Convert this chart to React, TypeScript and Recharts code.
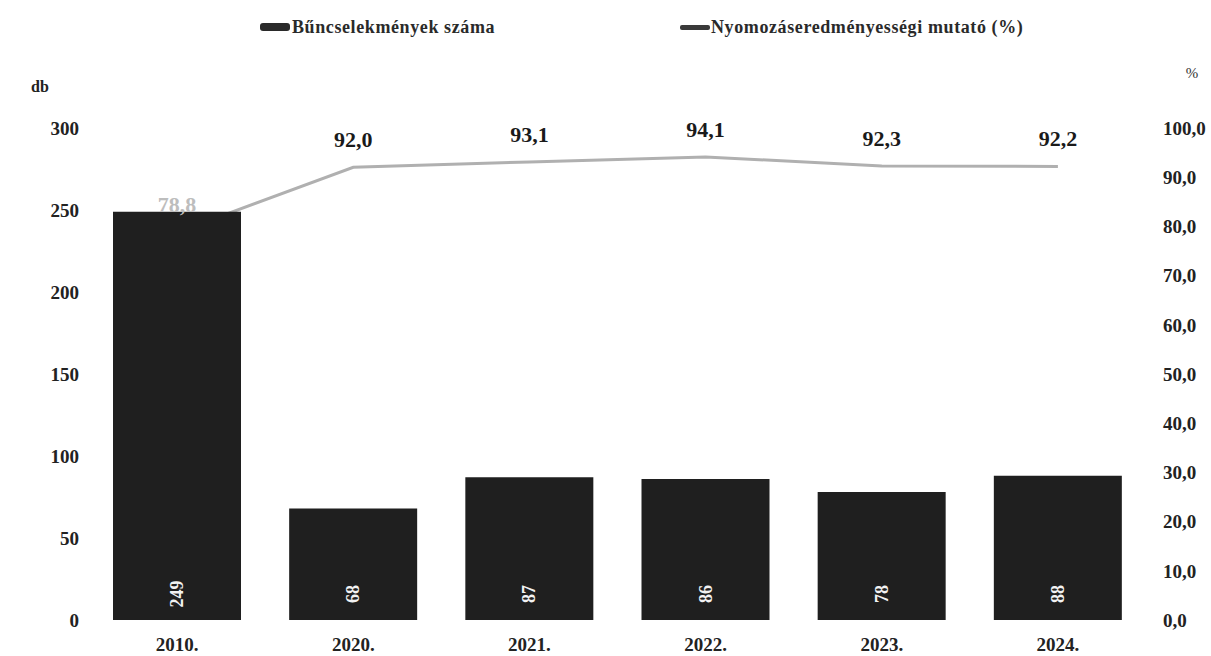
import React from "react";
import {
  ComposedChart,
  Bar,
  Line,
  XAxis,
  YAxis,
  Legend,
  LabelList,
} from "recharts";

const years = ["2010.", "2020.", "2021.", "2022.", "2023.", "2024."];
const crimeCounts = [249, 68, 87, 86, 78, 88];
const clearanceRates = [78.8, 92.0, 93.1, 94.1, 92.3, 92.2];
const countTicks = [0, 50, 100, 150, 200, 250, 300];
const rateTicks = [0, 10, 20, 30, 40, 50, 60, 70, 80, 90, 100];

const data = years.map((year, i) => ({
  year,
  count: crimeCounts[i],
  rate: clearanceRates[i],
}));

const FONT = '"Liberation Serif", "Times New Roman", serif';
const huComma = (v: number) => v.toFixed(1).replace(".", ",");

const tickStyle = { fontSize: 19, fill: "#222", fontWeight: "bold", fontFamily: FONT };

function LegendContent() {
  return (
    <div
      style={{
        display: "flex",
        height: 22,
        paddingLeft: 260,
        fontFamily: FONT,
        fontSize: 18,
        fontWeight: "bold",
        letterSpacing: 0.6,
        color: "#2a2a2a",
        whiteSpace: "nowrap",
      }}
    >
      <div style={{ display: "flex", alignItems: "center", width: 420 }}>
        <span
          style={{
            display: "inline-block",
            width: 30,
            height: 8,
            borderRadius: 3,
            background: "#2a2a2a",
            marginRight: 2,
          }}
        />
        Bűncselekmények száma
      </div>
      <div style={{ display: "flex", alignItems: "center" }}>
        <span
          style={{
            display: "inline-block",
            width: 30,
            height: 5,
            borderRadius: 2,
            background: "#3a3a3a",
            marginRight: 1,
          }}
        />
        Nyomozáseredményességi mutató (%)
      </div>
    </div>
  );
}

const CountLabel = (props: any) => {
  const { x, y, width, height, value } = props;
  const cx = x + width / 2;
  const cy = y + height - 26;
  return (
    <text
      x={cx}
      y={cy}
      transform={`rotate(-90 ${cx} ${cy})`}
      textAnchor="middle"
      dominantBaseline="central"
      fill="#f2f2f2"
      fontSize={18}
      fontWeight="bold"
      fontFamily={FONT}
    >
      {value}
    </text>
  );
};

const RateLabel = (props: any) => {
  const { x, y, value, index } = props;
  return (
    <text
      x={x}
      y={y - 20}
      textAnchor="middle"
      fill={index === 0 ? "#bdbdbd" : "#1a1a1a"}
      fontSize={22}
      fontWeight="bold"
      fontFamily={FONT}
    >
      {huComma(value)}
    </text>
  );
};

export default function App() {
  return (
    <div
      style={{
        position: "absolute",
        left: 0,
        top: 0,
        width: 1211,
        height: 656,
        background: "#fff",
        fontFamily: FONT,
      }}
    >
      <ComposedChart
        width={1211}
        height={656}
        data={data}
        margin={{ top: 106, right: 5, left: 29, bottom: 0 }}
        barSize={128}
      >
        <Legend
          verticalAlign="top"
          align="left"
          content={<LegendContent />}
          wrapperStyle={{ top: 16, left: 0, fontFamily: FONT }}
        />
        <XAxis
          dataKey="year"
          axisLine={false}
          tickLine={false}
          height={36}
          tickMargin={12}
          tick={tickStyle}
        />
        <YAxis
          yAxisId="left"
          domain={[0, 300]}
          ticks={countTicks}
          axisLine={false}
          tickLine={false}
          width={60}
          tickMargin={4}
          tick={tickStyle}
          label={{
            value: "db",
            position: "top",
            offset: 36,
            dx: -19,
            style: { fontSize: 16, fill: "#222", fontWeight: "bold", fontFamily: FONT },
          }}
        />
        <YAxis
          yAxisId="right"
          orientation="right"
          domain={[0, 100]}
          ticks={rateTicks}
          tickFormatter={huComma}
          axisLine={false}
          tickLine={false}
          width={60}
          tickMargin={11}
          tick={tickStyle}
          label={{
            value: "%",
            position: "top",
            offset: 50,
            dx: 16,
            style: { fontSize: 15, fill: "#333", fontFamily: FONT },
          }}
        />
        <Bar
          yAxisId="left"
          dataKey="count"
          fill="#1f1f1f"
          isAnimationActive={false}
        >
          <LabelList dataKey="count" content={<CountLabel />} />
        </Bar>
        {/* in the original the line runs behind the 2010 bar */}
        <Line
          yAxisId="right"
          dataKey="rate"
          type="linear"
          stroke="#b0b0b0"
          strokeWidth={3}
          dot={false}
          activeDot={false}
          isAnimationActive={false}
          legendType="none"
          {...({ zIndex: 250 } as any)}
        >
          <LabelList dataKey="rate" content={<RateLabel />} />
        </Line>
      </ComposedChart>
    </div>
  );
}
